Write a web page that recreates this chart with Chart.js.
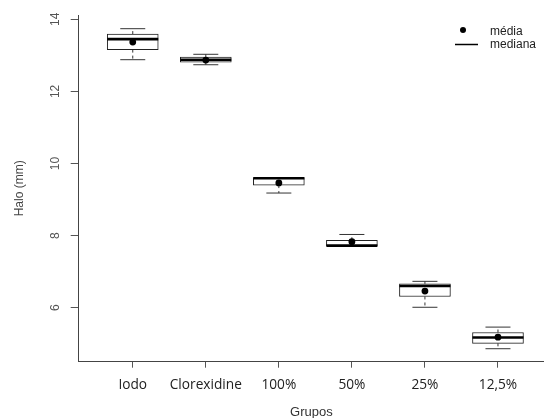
<!DOCTYPE html>
<html><head><meta charset="utf-8">
<script src="https://cdn.jsdelivr.net/npm/chart.js@4/dist/chart.umd.min.js"></script>
<style>html,body{margin:0;padding:0;background:#fff}</style>
</head><body>
<canvas id="c" width="544" height="418" style="display:block;width:544px;height:418px"></canvas>
<script>
const categories = ['Iodo', 'Clorexidine', '100%', '50%', '25%', '12,5%'];
const whiskerLow  = [12.88, 12.74, 9.18, 7.71, 6.01, 4.86];
const quartile1   = [13.16, 12.81, 9.40, 7.71, 6.31, 5.01];
const medians     = [13.45, 12.88, 9.59, 7.72, 6.60, 5.17];
const quartile3   = [13.59, 12.95, 9.61, 7.87, 6.66, 5.31];
const whiskerHigh = [13.74, 13.03, 9.61, 8.03, 6.73, 5.46];
const means       = [13.37, 12.87, 9.46, 7.83, 6.46, 5.18];
const yTicks = [6, 8, 10, 12, 14];
const legendLabels = ['média', 'mediana'];
const xTitle = 'Grupos';
const yTitle = 'Halo (mm)';

const xs = categories.map((c, i) => i + 1);

const boxData = xs.map((x, i) => ({x, y: [quartile1[i], quartile3[i]]}));
const medData = xs.map((x, i) => ({x, y: medians[i]}));
const meanData = xs.map((x, i) => ({x, y: means[i]}));
const capData = [];
xs.forEach((x, i) => { capData.push({x, y: whiskerLow[i]}); capData.push({x, y: whiskerHigh[i]}); });
const stemData = [];
xs.forEach((x, i) => {
  stemData.push({x, y: quartile3[i]}, {x, y: whiskerHigh[i]}, {x, y: null});
  stemData.push({x, y: quartile1[i]}, {x, y: whiskerLow[i]}, {x, y: null});
});

const legendPlugin = {
  id: 'rLegend',
  afterDraw(chart) {
    const ctx = chart.ctx;
    ctx.save();
    ctx.fillStyle = '#000';
    ctx.beginPath(); ctx.arc(463, 30, 3, 0, Math.PI * 2); ctx.fill();
    ctx.strokeStyle = '#000'; ctx.lineWidth = 1.5;
    ctx.beginPath(); ctx.moveTo(455, 44.5); ctx.lineTo(478, 44.5); ctx.stroke();
    ctx.font = '12px "Liberation Sans", Arial, sans-serif';
    ctx.textBaseline = 'middle'; ctx.textAlign = 'left'; ctx.fillStyle = '#222';
    ctx.fillText(legendLabels[0], 490, 32);
    ctx.fillText(legendLabels[1], 490, 45);
    ctx.restore();
  }
};

function zeroPad(s) { s.paddingLeft = 0; s.paddingRight = 0; s.paddingTop = 0; s.paddingBottom = 0; }

new Chart(document.getElementById('c'), {
  type: 'bar',
  data: {
    datasets: [
      {type: 'scatter', data: meanData, pointRadius: 3.4, pointBackgroundColor: '#000', pointBorderColor: '#000', pointBorderWidth: 0, order: 0},
      {type: 'scatter', data: medData, pointStyle: 'line', pointRadius: 25.5, pointBorderColor: '#000', pointBorderWidth: 2.6, order: 1},
      {type: 'bar', data: boxData, backgroundColor: '#fff', borderColor: '#222', borderWidth: 1, borderSkipped: false, barThickness: 51, order: 2},
      {type: 'scatter', data: capData, pointStyle: 'line', pointRadius: 12.5, pointBorderColor: '#333', pointBorderWidth: 1, order: 3},
      {type: 'scatter', data: stemData, showLine: true, spanGaps: false, pointRadius: 0, borderColor: '#333', borderWidth: 1, borderDash: [3, 3], order: 4}
    ]
  },
  options: {
    responsive: false,
    animation: false,
    devicePixelRatio: 1,
    layout: {autoPadding: false, padding: {top: 15, right: 0, left: 0, bottom: 0}},
    plugins: {legend: {display: false}, tooltip: {enabled: false}},
    scales: {
      x: {
        type: 'linear', min: 0.26, max: 6.63, offset: false,
        afterBuildTicks: s => { s.ticks = xs.map(v => ({value: v})); },
        afterFit: s => { s.height = 56.3; zeroPad(s); },
        grid: {display: true, drawOnChartArea: false, drawTicks: true, tickLength: 6, color: '#555', offset: false},
        border: {display: true, color: '#444', width: 1},
        ticks: {
          callback: v => categories[v - 1] || '',
          font: {family: '"Open Sans", sans-serif', size: 13.7}, color: '#222', padding: 9,
          maxRotation: 0, minRotation: 0, autoSkip: false
        },
        title: {display: true, text: xTitle, font: {family: '"Liberation Sans", Arial, sans-serif', size: 13, lineHeight: 1}, color: '#333', padding: {top: 0, bottom: -1}}
      },
      y: {
        type: 'linear', min: 4.5, max: 14.12,
        afterBuildTicks: s => { s.ticks = yTicks.map(v => ({value: v})); },
        afterFit: s => { s.width = 78.7; zeroPad(s); },
        grid: {display: true, drawOnChartArea: false, drawTicks: true, tickLength: 8, color: '#555'},
        border: {display: true, color: '#444', width: 1},
        ticks: {
          font: {family: '"Liberation Sans", Arial, sans-serif', size: 12}, color: '#555',
          minRotation: 90, maxRotation: 90, crossAlign: 'center', padding: 8
        },
        title: {display: true, text: yTitle, font: {family: '"Liberation Sans", Arial, sans-serif', size: 12}, color: '#444', padding: {top: 12, bottom: 0}}
      }
    }
  },
  plugins: [legendPlugin]
});
</script>
</body></html>
